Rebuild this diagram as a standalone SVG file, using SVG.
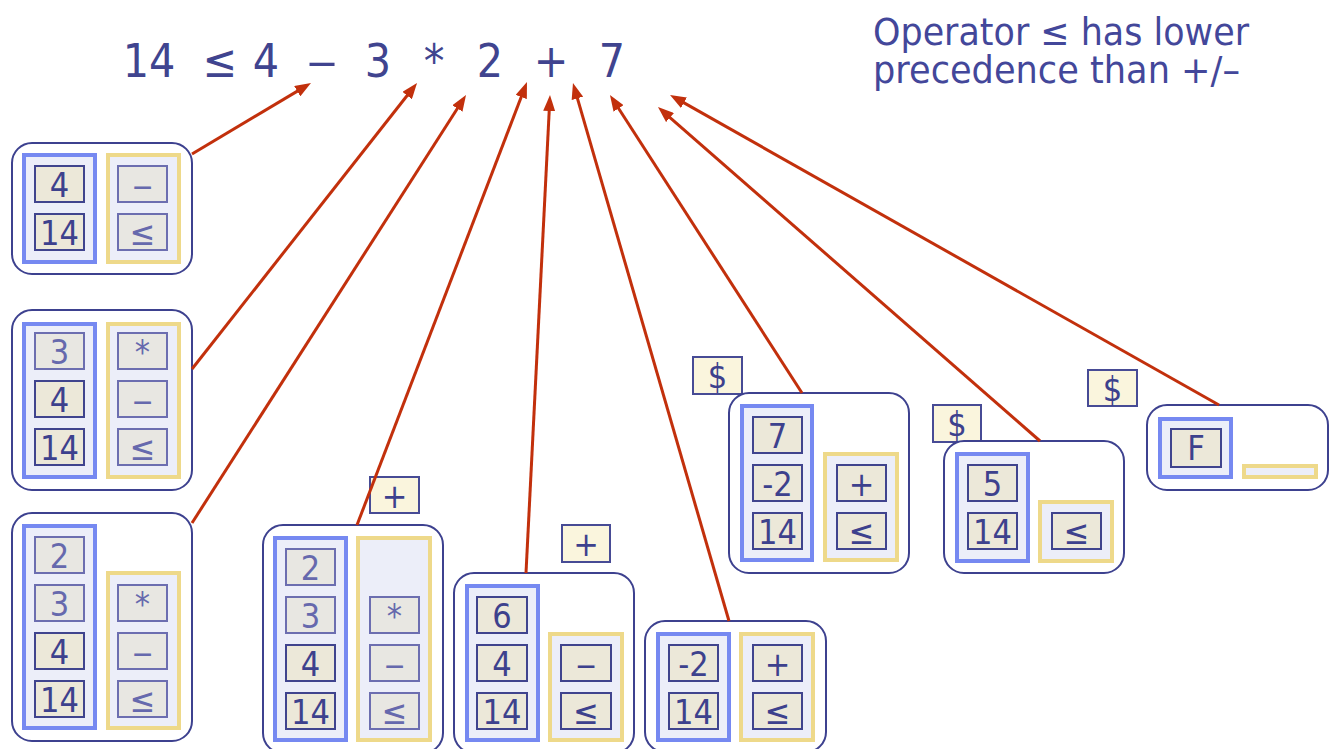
<svg xmlns="http://www.w3.org/2000/svg" width="1335" height="749" viewBox="0 0 1335 749">
  <defs>
    <style>
      .frame { fill: #ffffff; stroke: #3d418f; stroke-width: 2; }
      .vcol { fill: #eceef9; stroke: #7689f1; stroke-width: 4; }
      .ocol { fill: #eceef9; stroke: #eed98a; stroke-width: 4; }
      .cell { fill: #ece8d9; stroke: #40448e; stroke-width: 2; }
      .cell.dim { fill: #e8e7e2; stroke: #6c6eb0; }
      .tok { fill: #faf5dd; stroke: #474b95; stroke-width: 2; }
      .t { font-family: "DejaVu Sans Condensed", "DejaVu Sans", sans-serif; font-size: 34px; text-anchor: middle; fill: #3d418d; }
      .t.dim { fill: #6669ad; }
      .expr { font-family: "DejaVu Sans Condensed", "DejaVu Sans", sans-serif; font-size: 46px; text-anchor: middle; fill: #40448f; }
      .note { font-family: "DejaVu Sans", sans-serif; font-size: 37px; fill: #43479a; }
      .link { fill: none; stroke: #c2300c; stroke-width: 3; marker-end: url(#head); }
    </style>
    <marker id="head" viewBox="0 0 16 12" markerWidth="16" markerHeight="12" refX="8" refY="6" orient="auto" markerUnits="userSpaceOnUse">
      <path d="M0,0 L16,6 L0,12 Z" fill="#c2300c"/>
    </marker>
  </defs>

  <!-- expression being parsed; dashes are widened to the operator width -->
  <g id="expression">
    <text class="expr" x="149" y="77">14</text>
    <text class="expr" x="220" y="77">≤</text>
    <text class="expr" x="266" y="77">4</text>
    <text class="expr" transform="translate(322,77) scale(1.5,1)">–</text>
    <text class="expr" x="378" y="77">3</text>
    <text class="expr" x="434" y="77">*</text>
    <text class="expr" x="490" y="77">2</text>
    <text class="expr" x="551" y="77">+</text>
    <text class="expr" x="612" y="77">7</text>
  </g>

  <g id="note">
    <text class="note" x="873" y="45" textLength="376" lengthAdjust="spacingAndGlyphs">Operator ≤ has lower</text>
    <text class="note" x="873" y="83" textLength="367" lengthAdjust="spacingAndGlyphs">precedence than +/–</text>
  </g>

  <!-- stack snapshots: value column (blue) and operator column (yellow) -->
  <g id="s1">
    <rect class="frame" x="12" y="143" width="180" height="131" rx="20"/>
    <rect class="vcol" x="24" y="155" width="71" height="107"/>
    <rect class="ocol" x="108" y="155" width="71" height="107"/>
    <rect class="cell" x="35" y="166" width="49" height="36"/><text class="t" x="59.5" y="196.5">4</text>
    <rect class="cell" x="35" y="214" width="49" height="36"/><text class="t" x="59.5" y="244.5">14</text>
    <rect class="cell dim" x="118" y="166" width="49" height="36"/><text class="t dim" transform="translate(142.5,196.5) scale(1.35,1)">–</text>
    <rect class="cell dim" x="118" y="214" width="49" height="36"/><text class="t dim" x="142.5" y="244.5">≤</text>
  </g>

  <g id="s2">
    <rect class="frame" x="12" y="310" width="180" height="180" rx="20"/>
    <rect class="vcol" x="24" y="324" width="71" height="153"/>
    <rect class="ocol" x="108" y="324" width="71" height="153"/>
    <rect class="cell dim" x="35" y="333" width="49" height="36"/><text class="t dim" x="59.5" y="363.5">3</text>
    <rect class="cell" x="35" y="381" width="49" height="36"/><text class="t" x="59.5" y="411.5">4</text>
    <rect class="cell" x="35" y="429" width="49" height="36"/><text class="t" x="59.5" y="459.5">14</text>
    <rect class="cell dim" x="118" y="333" width="49" height="36"/><text class="t dim" x="142.5" y="363.5">*</text>
    <rect class="cell dim" x="118" y="381" width="49" height="36"/><text class="t dim" transform="translate(142.5,411.5) scale(1.35,1)">–</text>
    <rect class="cell dim" x="118" y="429" width="49" height="36"/><text class="t dim" x="142.5" y="459.5">≤</text>
  </g>

  <g id="s3">
    <rect class="frame" x="12" y="513" width="180" height="228" rx="20"/>
    <rect class="vcol" x="24" y="526" width="71" height="202"/>
    <rect class="ocol" x="108" y="573" width="71" height="155"/>
    <rect class="cell dim" x="35" y="537" width="49" height="36"/><text class="t dim" x="59.5" y="567.5">2</text>
    <rect class="cell dim" x="35" y="585" width="49" height="36"/><text class="t dim" x="59.5" y="615.5">3</text>
    <rect class="cell" x="35" y="633" width="49" height="36"/><text class="t" x="59.5" y="663.5">4</text>
    <rect class="cell" x="35" y="681" width="49" height="36"/><text class="t" x="59.5" y="711.5">14</text>
    <rect class="cell dim" x="118" y="585" width="49" height="36"/><text class="t dim" x="142.5" y="615.5">*</text>
    <rect class="cell dim" x="118" y="633" width="49" height="36"/><text class="t dim" transform="translate(142.5,663.5) scale(1.35,1)">–</text>
    <rect class="cell dim" x="118" y="681" width="49" height="36"/><text class="t dim" x="142.5" y="711.5">≤</text>
  </g>

  <g id="s4">
    <rect class="tok" x="370" y="477" width="49" height="36"/><text class="t" x="394.5" y="507.5">+</text>
    <rect class="frame" x="263" y="525" width="180" height="228" rx="20"/>
    <rect class="vcol" x="275" y="538" width="71" height="202"/>
    <rect class="ocol" x="358" y="538" width="72" height="202"/>
    <rect class="cell dim" x="286" y="549" width="49" height="36"/><text class="t dim" x="310.5" y="579.5">2</text>
    <rect class="cell dim" x="286" y="597" width="49" height="36"/><text class="t dim" x="310.5" y="627.5">3</text>
    <rect class="cell" x="286" y="645" width="49" height="36"/><text class="t" x="310.5" y="675.5">4</text>
    <rect class="cell" x="286" y="693" width="49" height="36"/><text class="t" x="310.5" y="723.5">14</text>
    <rect class="cell dim" x="370" y="597" width="49" height="36"/><text class="t dim" x="394.5" y="627.5">*</text>
    <rect class="cell dim" x="370" y="645" width="49" height="36"/><text class="t dim" transform="translate(394.5,675.5) scale(1.35,1)">–</text>
    <rect class="cell dim" x="370" y="693" width="49" height="36"/><text class="t dim" x="394.5" y="723.5">≤</text>
  </g>

  <g id="s5">
    <rect class="tok" x="562" y="525" width="48" height="37"/><text class="t" x="586" y="556">+</text>
    <rect class="frame" x="454" y="573" width="180" height="180" rx="20"/>
    <rect class="vcol" x="467" y="586" width="71" height="154"/>
    <rect class="ocol" x="550" y="634" width="72" height="106"/>
    <rect class="cell" x="477" y="597" width="50" height="36"/><text class="t" x="502" y="627.5">6</text>
    <rect class="cell" x="477" y="645" width="50" height="36"/><text class="t" x="502" y="675.5">4</text>
    <rect class="cell" x="477" y="693" width="50" height="36"/><text class="t" x="502" y="723.5">14</text>
    <rect class="cell" x="561" y="645" width="50" height="36"/><text class="t" transform="translate(586,675.5) scale(1.35,1)">–</text>
    <rect class="cell" x="561" y="693" width="50" height="36"/><text class="t" x="586" y="723.5">≤</text>
  </g>

  <g id="s6">
    <rect class="frame" x="645" y="621" width="181" height="131" rx="20"/>
    <rect class="vcol" x="658" y="634" width="71" height="106"/>
    <rect class="ocol" x="741" y="634" width="72" height="106"/>
    <rect class="cell" x="669" y="645" width="49" height="36"/><text class="t" x="693.5" y="675.5">-2</text>
    <rect class="cell" x="669" y="693" width="49" height="36"/><text class="t" x="693.5" y="723.5">14</text>
    <rect class="cell" x="753" y="645" width="49" height="36"/><text class="t" x="777.5" y="675.5">+</text>
    <rect class="cell" x="753" y="693" width="49" height="36"/><text class="t" x="777.5" y="723.5">≤</text>
  </g>

  <g id="s7">
    <rect class="tok" x="693" y="357" width="49" height="37"/><text class="t" x="717.5" y="388">$</text>
    <rect class="frame" x="729" y="393" width="180" height="180" rx="20"/>
    <rect class="vcol" x="742" y="406" width="70" height="154"/>
    <rect class="ocol" x="825" y="454" width="72" height="106"/>
    <rect class="cell" x="753" y="417" width="49" height="36"/><text class="t" x="777.5" y="447.5">7</text>
    <rect class="cell" x="753" y="465" width="49" height="36"/><text class="t" x="777.5" y="495.5">-2</text>
    <rect class="cell" x="753" y="513" width="49" height="36"/><text class="t" x="777.5" y="543.5">14</text>
    <rect class="cell" x="837" y="465" width="49" height="36"/><text class="t" x="861.5" y="495.5">+</text>
    <rect class="cell" x="837" y="513" width="49" height="36"/><text class="t" x="861.5" y="543.5">≤</text>
  </g>

  <g id="s8">
    <rect class="tok" x="933" y="405" width="48" height="37"/><text class="t" x="957" y="436">$</text>
    <rect class="frame" x="944" y="441" width="180" height="132" rx="20"/>
    <rect class="vcol" x="957" y="454" width="71" height="107"/>
    <rect class="ocol" x="1040" y="502" width="72" height="59"/>
    <rect class="cell" x="968" y="465" width="49" height="36"/><text class="t" x="992.5" y="495.5">5</text>
    <rect class="cell" x="968" y="513" width="49" height="36"/><text class="t" x="992.5" y="543.5">14</text>
    <rect class="cell" x="1052" y="513" width="49" height="36"/><text class="t" x="1076.5" y="543.5">≤</text>
  </g>

  <g id="s9">
    <rect class="tok" x="1088" y="370" width="49" height="36"/><text class="t" x="1112.5" y="400.5">$</text>
    <rect class="frame" x="1147" y="405" width="181" height="85" rx="20"/>
    <rect class="vcol" x="1160" y="419" width="71" height="58"/>
    <rect class="ocol" x="1244" y="466" width="72" height="11"/>
    <rect class="cell" x="1171" y="429" width="50" height="38"/><text class="t" x="1196" y="460">F</text>
  </g>

  <!-- each snapshot points at the token being read -->
  <g id="connectors">
    <line class="link" x1="192" y1="154" x2="304.1" y2="87.1"/>
    <line class="link" x1="192" y1="369" x2="412.1" y2="89.3"/>
    <line class="link" x1="192" y1="523" x2="461.7" y2="101.7"/>
    <line class="link" x1="357" y1="525" x2="524.1" y2="89.5"/>
    <line class="link" x1="526" y1="573" x2="549.6" y2="103"/>
    <line class="link" x1="729" y1="621" x2="575.2" y2="90.7"/>
    <line class="link" x1="802" y1="393" x2="614.3" y2="101.7"/>
    <line class="link" x1="1040" y1="441" x2="664" y2="112.3"/>
    <line class="link" x1="1219" y1="405" x2="677" y2="98.9"/>
  </g>
</svg>
